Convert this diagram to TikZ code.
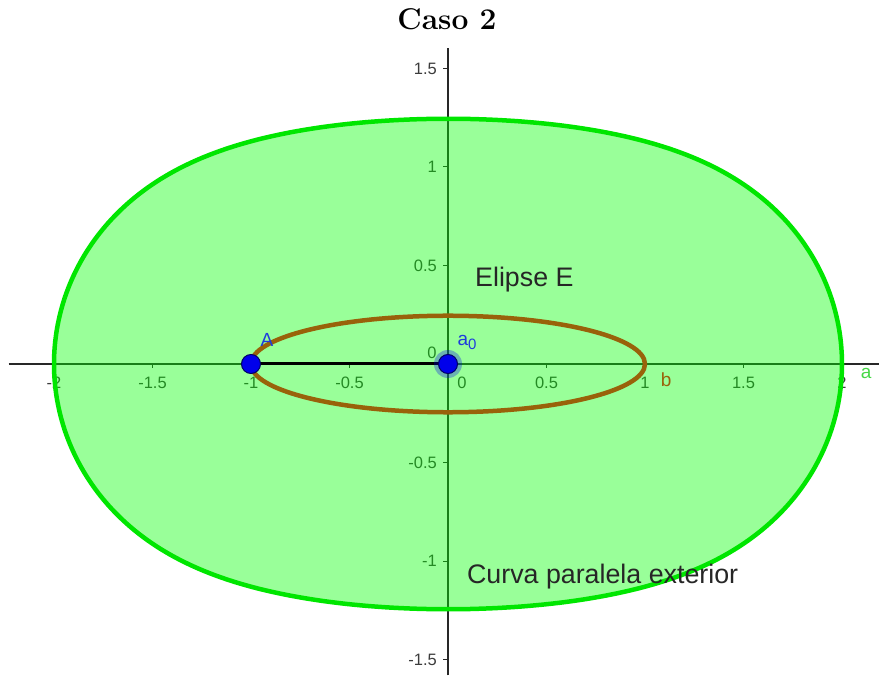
\documentclass[tikz,border=0pt]{standalone}
\usepackage{fontspec}
\newfontfamily\ggb{Liberation Sans}
\definecolor{curvegreen}{RGB}{0,230,0}
\definecolor{fillgreen}{RGB}{0,255,0}
\definecolor{ellbrown}{RGB}{153,98,10}
\definecolor{ptblue}{RGB}{0,0,235}
\definecolor{lblblue}{RGB}{30,60,220}
\definecolor{axisgray}{RGB}{40,40,40}
\definecolor{ticklbl}{RGB}{60,60,60}
\definecolor{lblgreen}{RGB}{70,215,70}
\tikzset{
  ticklabel/.style={font=\ggb\fontsize{16.5}{16.5}\selectfont, text=ticklbl, inner sep=0pt},
  biglabel/.style={font=\ggb\fontsize{26.8}{26.8}\selectfont, text=black!85, inner sep=0pt},
  ptlabel/.style={font=\ggb\fontsize{19}{19}\selectfont, inner sep=0pt},
  axisline/.style={draw=axisgray, line width=1.6pt},
  ptdot/.style={circle, fill=ptblue, draw=blue!40!black, line width=1pt, minimum size=19pt, inner sep=0pt},
}
\begin{document}
\begin{tikzpicture}[x=197pt,y=197pt]
\useasboundingbox (-2.2741,-1.5787) rectangle (2.1878,1.8477);
% title
\node[font=\fontsize{30}{30}\selectfont\bfseries, anchor=base, inner sep=0pt] (title) at (-0.005,1.70) {Caso 2};
% axes
\coordinate (xl) at (-2.23,0);
\coordinate (xr) at (2.19,0);
\coordinate (yt) at (0,1.604);
\coordinate (yb) at (0,-1.58);
\draw[axisline] (xl) -- (xr);
\draw[axisline] (yb) -- (yt);
% ticks
\foreach \v in {-2,-1.5,-1,-0.5,0.5,1,1.5,2}{
  \draw[axisgray, line width=1pt] (\v,0) -- ++(0,-4pt);
  \draw[axisgray, line width=1pt] (0,\v) -- ++(-5pt,0);
}
% x tick labels
\foreach \v/\t in {-2/-2,-1.5/-1.5,-1/-1,-0.5/-0.5,0.5/0.5,1/1,1.5/1.5,2/2}{
  \node[ticklabel] (xt\t) at (\v,-0.097) {\t};
}
\node[ticklabel] (xzero) at (0.071,-0.097) {0};
% y tick labels
\foreach \v/\t in {-1.5/-1.5,-1/-1,-0.5/-0.5,0.5/0.5,1/1,1.5/1.5}{
  \node[ticklabel, anchor=east] (yt\t) at (-0.056,\v) {\t};
}
\node[ticklabel] (yzero) at (-0.081,0.056) {0};
% parallel curve (fill overlays axes)
\fill[fillgreen, fill opacity=0.4]
  plot[domain=0:360, samples=240, smooth, variable=\t]
  ({cos(\t)/sqrt(cos(\t)^2+0.06*sin(\t)^2)+cos(\t)},
   {0.06*sin(\t)/sqrt(cos(\t)^2+0.06*sin(\t)^2)+sin(\t)}) -- cycle;
\draw[curvegreen, line width=4.5pt]
  plot[domain=0:360, samples=240, smooth, variable=\t]
  ({cos(\t)/sqrt(cos(\t)^2+0.06*sin(\t)^2)+cos(\t)},
   {0.06*sin(\t)/sqrt(cos(\t)^2+0.06*sin(\t)^2)+sin(\t)}) -- cycle;
% ellipse
\draw[ellbrown, line width=4.5pt] (0,0) ellipse [x radius=1, y radius=0.245];
% segment and points
\coordinate (A) at (-1,0);
\coordinate (O) at (0,0);
\draw[black, line width=3pt] (A) -- (O);
\fill[ptblue, opacity=0.3] (O) circle (14pt);
\node[ptdot] (Apt) at (A) {};
\node[ptdot] (Opt) at (O) {};
% labels
\node[ptlabel, text=lblblue] (Alabel) at (-0.919,0.122) {A};
\node[ptlabel, text=lblblue] (a0label) at (0.097,0.107) {a\raisebox{-0.4ex}{\fontsize{15}{15}\selectfont 0}};
\node[ptlabel, text=ellbrown] (blabel) at (1.107,-0.081) {b};
\node[ptlabel, text=lblgreen] (alabel) at (2.122,-0.046) {a};
\node[biglabel, anchor=base west] (elipse) at (0.137,0.391) {Elipse E};
\node[biglabel, anchor=base west] (curva) at (0.096,-1.112) {Curva paralela exterior};
\end{tikzpicture}
\end{document}
